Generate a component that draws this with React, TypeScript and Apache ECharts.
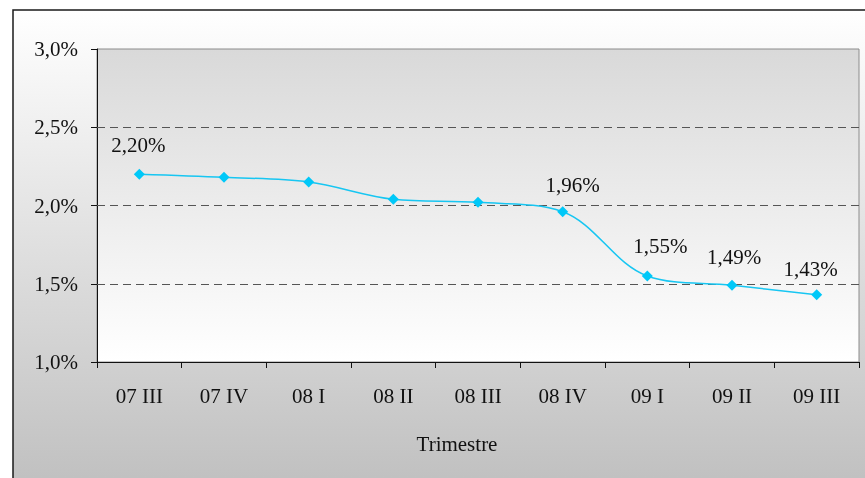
import React, { useEffect, useRef } from "react";
import * as echarts from "echarts";

const categories = ["07 III", "07 IV", "08 I", "08 II", "08 III", "08 IV", "09 I", "09 II", "09 III"];
const values = [2.20, 2.18, 2.15, 2.04, 2.02, 1.96, 1.55, 1.49, 1.43];
const showLabel = [true, false, false, false, false, true, true, true, true];
const gridLineValues = [1.5, 2.0, 2.5];
const yMin = 1.0;
const yMax = 3.0;
const yStep = 0.5;
const xAxisTitle = "Trimestre";

const labelOffsets: [number, number][] = [
  [-1, -1], [0, 0], [0, 0], [0, 0], [0, 0], [10, 1], [13, -2], [2, 0], [-6, 2],
];

const FONT = "Liberation Serif";
const FS = 21;

export default function App() {
  const ref = useRef<HTMLDivElement>(null);
  useEffect(() => {
    if (!ref.current) return;
    const chart = echarts.init(ref.current, null, { renderer: "svg" });
    const fmtPct = (v: number, d: number) => v.toFixed(d).replace(".", ",") + "%";
    chart.setOption({
      animation: false,
      textStyle: { fontFamily: FONT },
      graphic: [
        {
          type: "rect",
          z: -10,
          silent: true,
          shape: { x: 13, y: 10, width: 900, height: 520 },
          style: {
            fill: new echarts.graphic.LinearGradient(0, 0, 0, 1, [
              { offset: 0, color: "#ffffff" },
              { offset: 1, color: "#bababa" },
            ]),
            stroke: "#1a1a1a",
            lineWidth: 1.5,
          },
        },
        {
          type: "text",
          x: 457,
          y: 444,
          style: {
            text: xAxisTitle,
            fill: "#111",
            font: `${FS}px "${FONT}"`,
            textAlign: "center",
            textVerticalAlign: "middle",
          },
        },
      ],
      grid: {
        left: 97,
        top: 49,
        right: 6,
        bottom: 116,
        show: true,
        borderColor: "#8c8c8c",
        borderWidth: 1,
        backgroundColor: new echarts.graphic.LinearGradient(0, 0, 0, 1, [
          { offset: 0, color: "#d9d9d9" },
          { offset: 1, color: "#ffffff" },
        ]),
      },
      xAxis: {
        type: "category",
        data: categories,
        boundaryGap: true,
        axisLine: { lineStyle: { color: "#111", width: 1 } },
        axisTick: { show: true, length: 6, interval: 0, lineStyle: { color: "#111" } },
        axisLabel: { color: "#111", fontSize: FS, fontFamily: FONT, margin: 23, interval: 0 },
        splitLine: { show: false },
      },
      yAxis: {
        type: "value",
        min: yMin,
        max: yMax,
        interval: yStep,
        axisLine: { show: true, lineStyle: { color: "#111", width: 1 } },
        axisTick: { show: true, length: 6, lineStyle: { color: "#111" } },
        axisLabel: {
          color: "#111",
          fontSize: FS,
          fontFamily: FONT,
          margin: 19,
          formatter: (v: number) => fmtPct(v, 1),
        },
        splitLine: { show: false },
      },
      series: [
        {
          type: "line",
          data: values.map((v, i) => ({
            value: v,
            label: {
              show: showLabel[i],
              offset: labelOffsets[i],
            },
          })),
          smooth: 0.35,
          symbol: "diamond",
          symbolSize: 11,
          lineStyle: { color: "#17c6f2", width: 1.5 },
          itemStyle: { color: "#00c8f8" },
          label: {
            position: "top",
            distance: 12,
            color: "#111",
            fontSize: FS,
            fontFamily: FONT,
            formatter: (p: any) => fmtPct(p.value, 2),
          },
          markLine: {
            silent: true,
            symbol: "none",
            label: { show: false },
            lineStyle: { color: "#555", type: [8, 5], width: 1 },
            data: gridLineValues.map((v) => ({ yAxis: v })),
            z: 1,
          },
          z: 3,
        },
      ],
    });
    return () => chart.dispose();
  }, []);
  return (
    <div
      ref={ref}
      style={{ position: "fixed", left: 0, top: 0, width: 865, height: 478 }}
    />
  );
}
